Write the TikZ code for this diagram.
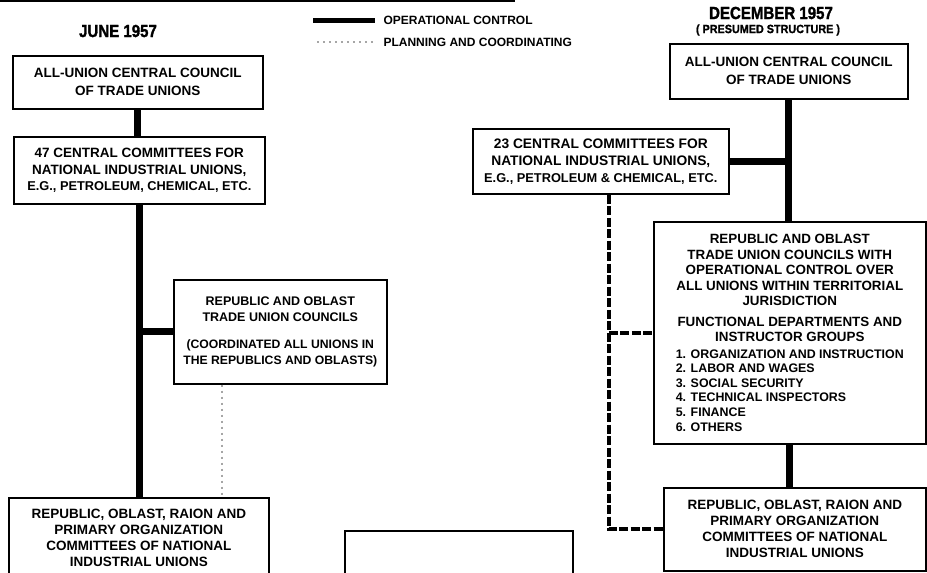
\documentclass[tikz,border=0pt]{standalone}
\usepackage{fontspec}
\setmainfont{Liberation Sans}
\newfontfamily\titlefont{Liberation Sans}[FakeStretch=0.86,FakeBold=1.6]
\newfontfamily\subtitlefont{Liberation Sans}[FakeStretch=0.9,FakeBold=1.2]
\usetikzlibrary{calc}
\tikzset{
 box/.style={draw=black, line width=1.6pt, fill=white, anchor=north west, inner sep=2pt, align=center,
   font=\fontsize{13.5}{16.5}\selectfont\bfseries},
 op/.style={line width=7pt, black},
 plan/.style={line width=4pt, black, dash pattern=on 9pt off 2.5pt},
 planfaint/.style={line width=2.5pt, black!35, dash pattern=on 2pt off 4pt},
 title/.style={font=\titlefont\fontsize{17.5}{20}\selectfont\bfseries},
 legend/.style={anchor=west, font=\fontsize{12}{14}\selectfont\bfseries}
}
\newcommand{\smallline}[1]{{\fontsize{12.8}{16}\selectfont #1}}
\begin{document}
\begin{tikzpicture}[x=1pt,y=-1pt]
\useasboundingbox (0,0) rectangle (927,573);
\clip (0,0) rectangle (927,573);
% top rule
\coordinate (tl1) at (0,1);
\coordinate (tl2) at (515,1);
\draw[line width=1.2pt] (tl1) -- (tl2);
% titles
\node[title] (t1) at (118,31) {JUNE 1957};
\node[title] (t2) at (771,13) {DECEMBER 1957};
\node[font=\subtitlefont\fontsize{12}{13}\selectfont\bfseries] (t3) at (768,30) {( PRESUMED STRUCTURE )};
% legend
\coordinate (lg1a) at (313,20);
\coordinate (lg1b) at (375,20);
\draw[line width=5pt] (lg1a) -- (lg1b);
\node[legend] (lt1) at (380,20) {OPERATIONAL CONTROL};
\coordinate (lg2a) at (317,42);
\coordinate (lg2b) at (375,42);
\draw[planfaint] (lg2a) -- (lg2b);
\node[legend] (lt2) at (380,42) {PLANNING AND COORDINATING};
% June 1957
\node[box, minimum width=250pt, minimum height=53pt, font=\fontsize{13.5}{18}\selectfont\bfseries] (a1) at (12,55) {ALL-UNION CENTRAL COUNCIL\\OF TRADE UNIONS};
\node[box, minimum width=251pt, minimum height=67pt] (b1) at (13,136) {47 CENTRAL COMMITTEES FOR\\NATIONAL INDUSTRIAL UNIONS,\\\smallline{E.G., PETROLEUM, CHEMICAL, ETC.}};
\node[box, minimum width=213pt, minimum height=104pt, font=\fontsize{12.5}{16}\selectfont\bfseries] (c1) at (173,279) {REPUBLIC AND OBLAST\\TRADE UNION COUNCILS\\[11pt]{\fontsize{12.2}{15}\selectfont (COORDINATED ALL UNIONS IN}\\{\fontsize{12.2}{15}\selectfont THE REPUBLICS AND OBLASTS)}};
\node[box, minimum width=260pt, minimum height=80pt, font=\fontsize{13.5}{16}\selectfont\bfseries] (d1) at (8,497) {REPUBLIC, OBLAST, RAION AND\\PRIMARY ORGANIZATION\\COMMITTEES OF NATIONAL\\INDUSTRIAL UNIONS};
\node[box, minimum width=228pt, minimum height=60pt] (e1) at (344,530) {};
\draw[op] (a1.south) -- (a1.south |- b1.north);
\draw[op] (b1.south) -- (b1.south |- d1.north);
\draw[op] (b1.south |- c1.west) -- (c1.west);
\coordinate (c1d) at ($(c1.south west)+(49,0)$);
\draw[planfaint] (c1d) -- (c1d |- d1.north);
% December 1957
\node[box, minimum width=238pt, minimum height=55pt, font=\fontsize{13.5}{18}\selectfont\bfseries] (a2) at (669,43) {ALL-UNION CENTRAL COUNCIL\\OF TRADE UNIONS};
\node[box, minimum width=256pt, minimum height=65pt, font=\fontsize{13.8}{17}\selectfont\bfseries] (b2) at (472,128) {23 CENTRAL COMMITTEES FOR\\NATIONAL INDUSTRIAL UNIONS,\\\smallline{E.G., PETROLEUM \& CHEMICAL, ETC.}};
\node[box, minimum width=272pt, minimum height=222pt, font=\fontsize{13.4}{15.5}\selectfont\bfseries] (f2) at (653,221) {REPUBLIC AND OBLAST\\TRADE UNION COUNCILS WITH\\OPERATIONAL CONTROL OVER\\ALL UNIONS WITHIN TERRITORIAL\\JURISDICTION\\[5pt]FUNCTIONAL DEPARTMENTS AND\\INSTRUCTOR GROUPS\\[1pt]\parbox[t]{228pt}{\raggedright\fontsize{12.4}{14.6}\selectfont\bfseries 1. ORGANIZATION AND INSTRUCTION\\2. LABOR AND WAGES\\3. SOCIAL SECURITY\\4. TECHNICAL INSPECTORS\\5. FINANCE\\6. OTHERS}};
\node[box, minimum width=262pt, minimum height=83pt, font=\fontsize{13.5}{16}\selectfont\bfseries] (g2) at (663,487) {REPUBLIC, OBLAST, RAION AND\\PRIMARY ORGANIZATION\\COMMITTEES OF NATIONAL\\INDUSTRIAL UNIONS};
\draw[op] (a2.south) -- (a2.south |- f2.north);
\draw[op] (a2.south |- b2.east) -- (b2.east);
\draw[op] (f2.south) -- (f2.south |- g2.north);
\coordinate (b2d) at ($(b2.south)+(8,0)$);
\draw[plan] (b2d) |- (g2.west);
\draw[plan] (b2d |- f2.west) -- (f2.west);
\end{tikzpicture}
\end{document}
